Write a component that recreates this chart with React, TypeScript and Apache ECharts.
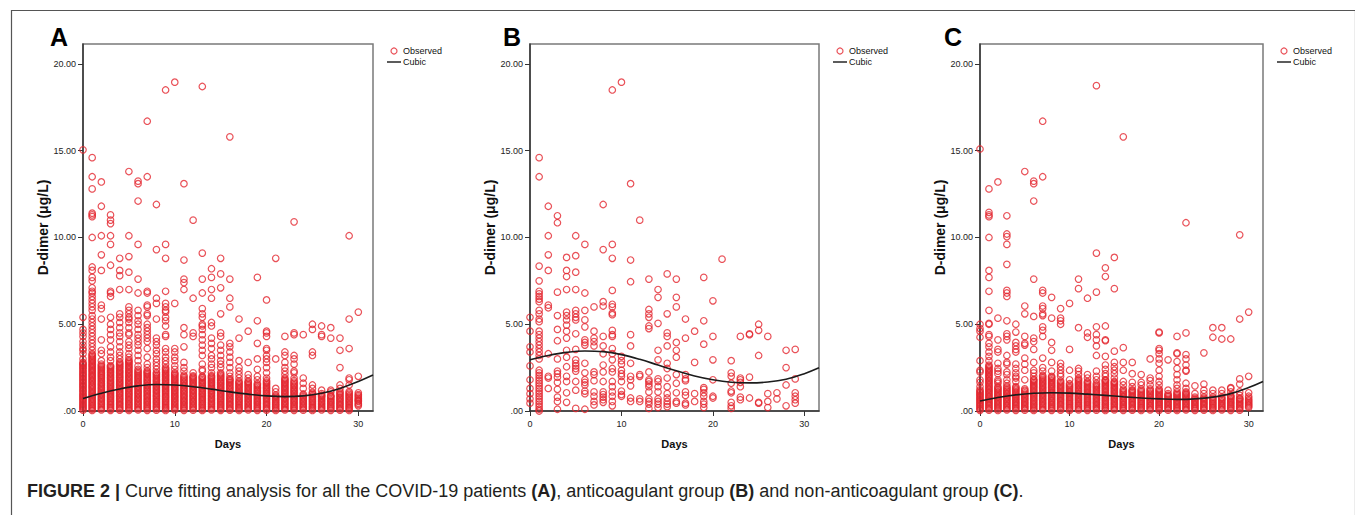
import React, { useEffect, useRef } from "react";
import * as echarts from "echarts";

// ---------- data (index of inner array = day) ----------
const obsA: number[][] = [
  [0.05,0.2,0.34,0.5,0.66,0.8,0.95,1.12,1.27,1.43,1.58,1.74,1.9,2.06,2.2,2.37,2.52,2.68,2.8,3.0,3.3,3.5,3.6,3.8,4.0,4.3,4.5,4.7,5.4,15.05],
  [0.03,0.17,0.31,0.46,0.6,0.76,0.9,1.05,1.2,1.36,1.5,1.66,1.8,1.96,2.1,2.26,2.4,2.56,2.7,2.86,3.0,3.16,3.3,3.5,3.7,3.9,4.1,4.3,4.5,4.7,4.9,5.1,5.3,5.5,5.8,6.0,6.2,6.4,6.6,6.8,6.9,7.1,7.5,7.7,8.1,8.3,10.0,11.2,11.3,11.4,12.8,13.5,14.6],
  [0.06,0.21,0.37,0.52,0.68,0.83,0.99,1.14,1.3,1.45,1.6,1.76,1.92,2.07,2.22,2.38,2.54,2.7,2.9,3.3,3.5,4.1,5.3,5.9,6.1,8.1,9.0,10.1,11.8,13.2],
  [0.04,0.19,0.35,0.5,0.65,0.81,0.96,1.12,1.27,1.42,1.58,1.73,1.89,2.04,2.2,2.35,2.5,2.62,2.9,3.1,3.4,3.7,4.1,4.4,4.7,5.0,5.4,6.6,6.8,6.9,8.4,9.6,10.1,10.8,11.0,11.3],
  [0.05,0.2,0.36,0.51,0.67,0.82,0.98,1.13,1.29,1.44,1.6,1.75,1.91,2.06,2.22,2.37,2.53,2.68,2.82,3.0,3.2,3.4,3.7,4.0,4.3,4.5,4.8,5.1,5.4,5.6,7.0,7.8,8.1,8.8],
  [0.03,0.18,0.34,0.49,0.65,0.8,0.96,1.11,1.27,1.42,1.58,1.73,1.89,2.04,2.2,2.35,2.51,2.66,2.82,2.95,3.1,3.3,3.6,3.8,4.0,4.4,4.5,4.8,5.1,5.3,5.4,5.6,5.8,6.0,7.0,8.0,8.9,10.1,13.8],
  [0.06,0.21,0.37,0.52,0.68,0.83,0.99,1.14,1.3,1.45,1.61,1.76,1.92,2.07,2.23,2.4,2.6,2.9,3.2,3.5,3.8,4.0,4.2,4.4,4.7,5.0,5.2,5.5,5.8,6.8,7.6,9.6,12.1,13.1,13.25],
  [0.04,0.2,0.35,0.51,0.66,0.82,0.97,1.13,1.28,1.44,1.59,1.75,1.9,2.06,2.2,2.32,2.5,2.7,3.1,3.6,4.0,4.2,4.4,4.6,4.8,5.0,5.5,5.6,6.0,6.1,6.8,6.9,13.5,16.7],
  [0.05,0.21,0.36,0.52,0.67,0.83,0.98,1.14,1.29,1.45,1.6,1.76,1.91,2.07,2.22,2.4,2.6,2.8,3.0,3.3,3.5,3.8,4.0,4.2,5.3,6.2,6.5,9.3,11.9],
  [0.03,0.19,0.34,0.5,0.65,0.81,0.96,1.12,1.27,1.43,1.58,1.74,1.89,2.05,2.2,2.36,2.5,2.7,2.9,3.1,3.4,3.6,4.3,4.4,4.9,5.2,5.4,5.7,5.8,6.0,6.2,6.9,8.8,9.6,18.5],
  [0.06,0.22,0.37,0.53,0.68,0.84,0.99,1.15,1.3,1.46,1.61,1.77,1.92,2.08,2.2,2.4,2.6,2.9,3.1,3.4,3.6,6.2,18.95],
  [0.04,0.2,0.35,0.51,0.66,0.82,0.97,1.13,1.28,1.44,1.59,1.75,1.9,2.06,2.3,2.5,2.8,3.7,4.4,4.8,7.0,7.4,7.6,8.7,13.1],
  [0.05,0.21,0.36,0.52,0.67,0.83,0.98,1.14,1.29,1.45,1.6,1.76,1.91,2.02,2.2,4.3,4.5,6.5,11.0],
  [0.03,0.18,0.34,0.49,0.65,0.8,0.96,1.11,1.27,1.42,1.58,1.73,1.89,2.0,2.3,2.4,2.7,3.2,3.5,3.8,4.1,4.4,4.7,4.9,5.0,5.4,5.6,5.9,6.8,7.6,9.1,18.7],
  [0.06,0.21,0.37,0.52,0.68,0.83,0.99,1.14,1.3,1.45,1.61,1.76,1.92,2.04,2.2,2.5,2.7,3.0,3.2,3.6,3.9,4.2,4.9,5.1,6.5,7.0,7.7,8.2],
  [0.04,0.19,0.35,0.5,0.66,0.81,0.97,1.12,1.28,1.43,1.59,1.74,1.9,2.05,2.2,2.5,2.7,2.9,3.2,3.5,3.8,4.3,4.5,5.6,7.1,7.9,8.8],
  [0.05,0.2,0.36,0.51,0.67,0.82,0.98,1.13,1.29,1.44,1.6,1.75,1.85,2.0,2.2,2.5,2.8,3.1,3.4,3.7,3.9,6.0,6.5,7.6,15.8],
  [0.03,0.19,0.34,0.5,0.65,0.81,0.96,1.12,1.27,1.43,1.58,1.72,1.9,2.1,2.3,2.5,2.9,4.2,5.3],
  [0.06,0.22,0.37,0.53,0.68,0.84,0.99,1.15,1.3,1.46,1.61,1.72,1.9,2.1,2.8,4.6],
  [0.04,0.2,0.35,0.51,0.66,0.82,0.97,1.13,1.28,1.44,1.58,1.8,2.0,2.4,3.0,3.9,5.2,7.7],
  [0.05,0.2,0.36,0.51,0.67,0.82,0.98,1.13,1.29,1.44,1.6,1.75,1.9,2.2,2.5,2.8,3.0,3.2,3.5,3.6,4.3,4.5,4.6,6.4],
  [0.03,0.18,0.34,0.49,0.65,0.8,0.92,1.1,1.3,3.0,8.8],
  [0.06,0.21,0.37,0.52,0.68,0.83,0.99,1.14,1.3,1.45,1.61,1.76,1.9,2.1,2.3,2.5,2.8,3.2,3.4,4.3],
  [0.04,0.2,0.35,0.51,0.66,0.82,0.97,1.13,1.28,1.44,1.59,1.75,1.9,2.2,2.3,2.7,3.0,3.2,4.4,4.5,10.9],
  [0.05,0.21,0.36,0.52,0.67,0.83,0.98,1.3,1.6,1.9,4.4],
  [0.03,0.19,0.34,0.5,0.65,0.81,0.96,1.08,1.3,1.5,3.2,3.4,4.7,5.0],
  [0.06,0.22,0.37,0.53,0.68,0.84,0.92,1.0,1.2,4.3,4.4,4.9],
  [0.04,0.2,0.35,0.51,0.66,0.82,0.9,1.1,1.2,4.2,4.8],
  [0.05,0.2,0.36,0.51,0.67,0.82,0.98,1.13,1.3,1.5,2.5,3.5,4.2],
  [0.03,0.19,0.34,0.5,0.65,0.81,0.96,1.12,1.5,1.8,1.9,3.6,5.3,10.1],
  [0.3,0.45,0.55,0.65,0.8,0.95,1.05,2.0,5.7],
];

// second reading of the crowded low band of panel A (points hidden between the first set)
const obsA2: number[][] = [
  [0.12,0.27,0.42,0.58,0.73,0.88,1.03,1.19,1.35,1.5,1.66,1.82,1.98,2.13,2.29,2.45,2.6,2.74],
  [0.1,0.24,0.38,0.53,0.68,0.83,0.97,1.12,1.28,1.43,1.58,1.73,1.88,2.03,2.18,2.33,2.48,2.63,2.78,2.93,3.08,3.23],
  [0.13,0.29,0.44,0.6,0.75,0.91,1.06,1.22,1.37,1.53,1.68,1.84,2.0,2.15,2.3,2.46,2.62],
  [0.11,0.27,0.42,0.57,0.73,0.88,1.04,1.19,1.35,1.5,1.65,1.81,1.96,2.12,2.27,2.43,2.56],
  [0.12,0.28,0.43,0.59,0.74,0.9,1.05,1.21,1.36,1.52,1.67,1.83,1.98,2.14,2.29,2.45,2.6,2.75],
  [0.1,0.26,0.41,0.57,0.72,0.88,1.03,1.19,1.34,1.5,1.65,1.81,1.96,2.12,2.27,2.43,2.58,2.74,2.88],
  [0.13,0.29,0.44,0.6,0.75,0.91,1.06,1.22,1.37,1.53,1.68,1.84,1.99,2.15,2.31],
  [0.12,0.27,0.43,0.58,0.74,0.89,1.05,1.2,1.36,1.51,1.67,1.82,1.98,2.13,2.26],
  [0.13,0.28,0.44,0.59,0.75,0.9,1.06,1.21,1.37,1.52,1.68,1.83,1.99,2.14],
  [0.11,0.26,0.42,0.57,0.73,0.88,1.04,1.19,1.35,1.5,1.66,1.81,1.97,2.12,2.28,2.43],
  [0.14,0.29,0.45,0.6,0.76,0.91,1.07,1.22,1.38,1.53,1.69,1.84,2.0,2.14],
  [0.12,0.27,0.43,0.58,0.74,0.89,1.05,1.2,1.36,1.51,1.67,1.82,1.98],
  [0.13,0.28,0.44,0.59,0.75,0.9,1.06,1.21,1.37,1.52,1.68,1.83,1.96],
  [0.1,0.26,0.41,0.57,0.72,0.88,1.03,1.19,1.34,1.5,1.65,1.81,1.95],
  [0.13,0.29,0.44,0.6,0.75,0.91,1.06,1.22,1.37,1.53,1.68,1.84,1.98],
  [0.11,0.27,0.42,0.58,0.73,0.89,1.04,1.2,1.35,1.51,1.66,1.82,1.97,2.12],
  [0.12,0.28,0.43,0.59,0.74,0.9,1.05,1.21,1.36,1.52,1.67,1.8],
  [0.11,0.26,0.42,0.57,0.73,0.88,1.04,1.19,1.35,1.5,1.65],
  [0.14,0.29,0.45,0.6,0.76,0.91,1.07,1.22,1.38,1.53,1.67],
  [0.12,0.27,0.43,0.58,0.74,0.89,1.05,1.2,1.36,1.51],
  [0.12,0.28,0.43,0.59,0.74,0.9,1.05,1.21,1.36,1.52,1.67],
  [0.1,0.26,0.41,0.57,0.72,0.86],
  [0.13,0.29,0.44,0.6,0.75,0.91,1.06,1.22,1.37,1.53,1.68,1.83],
  [0.12,0.27,0.43,0.58,0.74,0.89,1.05,1.2,1.36,1.51,1.67],
  [0.13,0.28,0.44,0.59,0.75,0.9],
  [0.11,0.26,0.42,0.57,0.73,0.88,1.02],
  [0.14,0.29,0.45,0.6,0.76,0.88],
  [0.12,0.27,0.43,0.58,0.74,0.86],
  [0.12,0.28,0.43,0.59,0.74,0.9,1.05],
  [0.11,0.26,0.42,0.57,0.73,0.88,1.04],
  [0.38,0.6,0.72,0.88],
];

const obsB: number[][] = [
  [0.45,0.7,1.0,1.3,1.8,2.6,3.4,3.7,4.6,5.4],
  [0.0,0.1,0.25,0.4,0.55,0.7,0.85,1.0,1.15,1.3,1.45,1.6,1.75,1.9,2.05,2.2,2.35,3.0,3.2,3.4,3.6,3.8,4.0,4.2,4.4,4.6,5.15,5.3,5.6,5.8,6.3,6.45,6.6,6.75,6.9,7.5,8.35,13.5,14.6],
  [1.3,1.9,2.0,3.3,5.95,6.1,8.1,9.0,10.1,11.8],
  [0.1,0.55,0.8,1.25,1.65,1.95,2.15,2.3,3.0,4.05,4.7,5.5,6.85,10.85,11.25],
  [0.5,1.05,1.7,2.0,2.55,3.1,3.5,4.2,4.6,4.95,5.25,5.5,5.7,7.0,7.75,8.1,8.85],
  [0.15,1.2,1.7,2.3,2.45,2.6,2.75,2.95,3.55,4.45,5.25,5.4,5.6,5.8,7.0,8.0,8.95,10.1],
  [0.1,1.0,1.15,1.5,1.65,1.8,2.2,2.75,3.8,3.95,4.1,4.85,5.25,5.8,6.8,9.6],
  [0.35,0.55,0.85,1.1,1.75,2.1,2.25,3.75,4.0,4.2,4.6,6.0],
  [0.5,0.65,0.8,0.95,1.1,1.7,2.25,2.65,3.3,3.75,4.3,6.05,6.3,9.3,11.9],
  [0.3,0.55,0.85,1.1,1.4,1.7,2.25,2.45,2.95,3.3,3.6,4.3,4.4,4.65,5.55,5.65,6.0,6.15,6.95,8.8,9.6,18.5],
  [0.85,0.95,1.15,1.7,2.0,2.15,2.35,2.7,2.9,3.15,18.95],
  [0.55,0.75,1.45,1.8,2.0,2.75,3.75,4.4,7.45,8.7,13.1],
  [0.55,0.7,2.0,2.1,11.0],
  [0.15,0.4,0.55,0.7,1.1,1.4,1.55,1.7,1.8,2.25,4.75,4.9,5.4,5.6,5.85,7.6],
  [0.2,0.4,0.55,0.7,1.1,1.4,1.7,1.85,2.95,3.5,5.05,6.55,7.0],
  [0.25,0.4,0.55,0.75,1.0,1.4,1.9,2.45,2.75,3.75,4.3,4.5,5.6,7.9],
  [0.45,0.55,1.05,1.6,2.1,3.1,3.5,3.95,6.0,6.55,7.6],
  [0.35,0.45,0.9,1.1,1.75,1.85,2.1,4.2,5.3],
  [0.55,1.0,2.8,4.6],
  [0.2,0.4,0.55,0.85,1.05,1.25,1.35,3.85,5.2,7.7],
  [0.75,0.85,1.8,2.95,4.3,6.35],
  [8.75],
  [0.15,0.3,0.5,1.05,1.15,1.6,2.0,2.2,2.9],
  [0.65,0.8,1.4,1.65,1.8,1.9,4.3],
  [0.75,1.95,4.4,4.45],
  [0.45,0.5,3.2,4.65,5.0],
  [0.2,0.55,1.0,4.3],
  [0.7,1.05],
  [0.3,1.5,2.5,3.5],
  [0.45,0.65,0.85,1.05,1.85,3.55],
];

const obsC: number[][] = [
  [0.04,0.18,0.33,0.48,0.63,0.78,0.93,1.08,1.22,1.4,1.65,1.8,2.25,2.35,2.9,4.25,4.6,4.75,5.0,15.1],
  [0.05,0.2,0.35,0.5,0.66,0.81,0.96,1.12,1.27,1.42,1.58,1.73,1.88,2.04,2.19,2.34,2.5,2.65,2.9,3.15,3.4,3.7,3.9,4.3,4.4,5.0,5.05,5.8,6.9,7.7,8.1,10.0,11.2,11.3,11.45,12.8],
  [0.03,0.19,0.34,0.5,0.65,0.8,0.96,1.11,1.26,1.4,1.6,1.7,1.8,2.15,2.3,2.45,2.75,3.4,3.55,4.1,5.35,13.2],
  [0.06,0.21,0.36,0.52,0.67,0.82,0.98,1.13,1.28,1.44,1.6,1.8,2.1,2.25,2.7,2.8,3.2,4.1,4.3,4.45,5.2,6.6,6.8,6.95,8.45,9.6,10.05,10.2,11.25],
  [0.04,0.2,0.35,0.5,0.66,0.81,0.96,1.12,1.27,1.4,1.7,1.9,2.0,2.2,2.45,2.7,3.4,3.55,3.75,3.95,4.55,5.0],
  [0.05,0.21,0.36,0.51,0.67,0.82,0.97,1.13,1.28,1.8,2.35,2.7,3.05,3.8,3.9,4.3,5.6,6.05,13.8],
  [0.03,0.18,0.34,0.49,0.64,0.8,0.95,1.1,1.26,1.41,1.56,1.72,1.82,2.0,2.2,2.35,2.8,3.55,4.0,4.2,5.45,7.6,12.1,13.1,13.25],
  [0.06,0.21,0.37,0.52,0.67,0.83,0.98,1.13,1.29,1.44,1.59,1.75,1.9,2.05,2.3,2.5,3.05,4.3,4.65,4.85,5.5,5.6,5.9,6.05,6.8,6.95,13.5,16.7],
  [0.04,0.19,0.35,0.5,0.65,0.81,0.96,1.11,1.27,1.42,1.57,1.73,1.88,2.0,2.3,2.8,3.5,3.95,5.35,6.55],
  [0.05,0.2,0.36,0.51,0.66,0.82,0.97,1.12,1.28,1.43,1.58,1.74,2.0,2.15,2.35,2.55,2.75,5.0,5.2,5.35,5.9],
  [0.03,0.19,0.34,0.49,0.65,0.8,0.95,1.11,1.26,1.41,1.57,1.8,2.35,3.55,6.2],
  [0.06,0.21,0.36,0.52,0.67,0.82,0.98,1.13,1.28,1.44,1.59,1.74,1.88,2.1,2.3,2.45,4.8,7.05,7.6],
  [0.04,0.2,0.35,0.5,0.66,0.81,0.96,1.12,1.27,1.42,1.58,1.7,1.9,2.1,4.25,4.5,6.5],
  [0.05,0.21,0.36,0.51,0.67,0.82,0.97,1.13,1.28,1.43,1.59,1.8,2.0,2.3,3.2,3.75,4.1,4.4,4.85,6.85,9.1,18.75],
  [0.03,0.18,0.34,0.49,0.64,0.8,0.95,1.1,1.26,1.41,1.56,1.72,1.8,2.0,2.15,2.4,2.65,3.15,4.05,4.1,4.9,7.75,8.25],
  [0.06,0.21,0.37,0.52,0.67,0.83,0.98,1.13,1.29,1.44,1.59,1.7,1.9,2.15,2.35,2.55,2.8,3.45,7.05,8.85],
  [0.04,0.19,0.35,0.5,0.65,0.81,0.96,1.11,1.27,1.5,1.7,2.35,2.8,3.65,15.8],
  [0.05,0.2,0.36,0.51,0.66,0.82,0.97,1.12,1.22,1.4,1.65,2.15,2.8],
  [0.03,0.19,0.34,0.49,0.65,0.8,0.95,1.11,1.26,1.5,1.65,2.1],
  [0.06,0.21,0.36,0.52,0.67,0.82,0.98,1.13,1.28,1.5,1.75,1.9,3.0],
  [0.04,0.2,0.35,0.5,0.66,0.81,0.96,1.12,1.27,1.5,1.7,2.0,2.35,2.75,3.0,3.3,3.5,3.6,4.5,4.55],
  [0.05,0.21,0.36,0.51,0.67,0.82,0.92,1.0,1.2,2.95],
  [0.03,0.18,0.34,0.49,0.64,0.8,0.95,1.1,1.3,1.5,1.8,2.1,2.45,2.85,3.3,3.35,4.3],
  [0.06,0.21,0.37,0.52,0.67,0.83,0.98,1.1,1.3,1.6,2.3,2.35,2.65,3.0,3.25,4.5,10.85],
  [0.04,0.19,0.35,0.5,0.65,0.8,1.0,1.45],
  [0.05,0.2,0.36,0.51,0.66,0.8,1.0,1.2,1.55,3.35],
  [0.03,0.19,0.34,0.49,0.65,0.8,1.0,1.2,4.25,4.8],
  [0.06,0.21,0.36,0.52,0.67,0.8,1.0,1.2,4.15,4.8],
  [0.04,0.2,0.35,0.5,0.66,0.81,0.9,1.1,1.3,1.35,4.15],
  [0.05,0.21,0.36,0.51,0.67,0.75,0.9,1.1,1.55,1.85,5.3,10.15],
  [0.2,0.35,0.5,0.65,0.85,1.05,2.0,5.7],
];

// second reading of the crowded low band of panel C
const obsC2: number[][] = [
  [0.11,0.26,0.41,0.56,0.71,0.86,1.0,1.15],
  [0.12,0.28,0.43,0.58,0.73,0.88,1.04,1.2,1.35,1.5,1.65,1.8,1.96,2.11,2.27,2.42,2.58],
  [0.11,0.27,0.42,0.58,0.73,0.88,1.03,1.19,1.33],
  [0.13,0.29,0.44,0.6,0.75,0.9,1.05,1.2,1.36],
  [0.12,0.28,0.43,0.58,0.74,0.89,1.04,1.2,1.34],
  [0.13,0.28,0.44,0.59,0.74,0.9,1.05,1.2],
  [0.1,0.26,0.41,0.57,0.72,0.88,1.03,1.18,1.34,1.49,1.64,1.78],
  [0.13,0.29,0.44,0.6,0.75,0.9,1.06,1.21,1.36,1.52,1.67,1.82,1.98],
  [0.12,0.27,0.42,0.58,0.73,0.88,1.04,1.19,1.35,1.5,1.65,1.8,1.95],
  [0.12,0.28,0.43,0.59,0.74,0.89,1.05,1.2,1.35,1.5,1.66],
  [0.11,0.26,0.42,0.57,0.72,0.88,1.03,1.18,1.34,1.49],
  [0.13,0.29,0.44,0.6,0.75,0.9,1.05,1.2,1.36,1.51,1.66,1.81],
  [0.12,0.27,0.43,0.58,0.73,0.89,1.04,1.19,1.35,1.5,1.64],
  [0.13,0.28,0.44,0.59,0.74,0.9,1.05,1.2,1.36,1.51],
  [0.11,0.26,0.41,0.57,0.72,0.88,1.03,1.18,1.33,1.49,1.64,1.76],
  [0.13,0.29,0.44,0.6,0.75,0.9,1.06,1.21,1.36,1.52,1.65],
  [0.12,0.27,0.42,0.58,0.73,0.88,1.04,1.19],
  [0.12,0.28,0.43,0.58,0.74,0.89,1.05,1.17],
  [0.11,0.26,0.42,0.57,0.72,0.88,1.03,1.18],
  [0.13,0.29,0.44,0.6,0.75,0.9,1.05,1.2],
  [0.12,0.27,0.43,0.58,0.73,0.89,1.04,1.2],
  [0.13,0.28,0.44,0.59,0.74,0.87],
  [0.11,0.26,0.41,0.57,0.72,0.88,1.02],
  [0.13,0.29,0.44,0.6,0.75,0.9,1.04],
  [0.12,0.27,0.42,0.58,0.72],
  [0.12,0.28,0.43,0.58,0.73],
  [0.11,0.26,0.42,0.57,0.72],
  [0.13,0.29,0.44,0.6,0.74],
  [0.12,0.27,0.43,0.58,0.73,0.85],
  [0.13,0.28,0.44,0.59,0.7],
  [0.28,0.42,0.58,0.75],
];

// fitted cubic curves, read at these days
const cubicDays = [0, 2, 4, 6, 8, 10, 12, 14, 16, 18, 20, 22, 24, 26, 28, 30, 31.6];
const cubicA = [0.72, 1.02, 1.27, 1.45, 1.53, 1.5, 1.4, 1.26, 1.1, 0.97, 0.87, 0.83, 0.87, 1.02, 1.3, 1.7, 2.07];
const cubicB = [2.95, 3.2, 3.38, 3.46, 3.42, 3.25, 2.98, 2.65, 2.32, 2.02, 1.8, 1.66, 1.62, 1.67, 1.83, 2.15, 2.49];
const cubicC = [0.58, 0.78, 0.93, 1.02, 1.05, 1.03, 0.97, 0.9, 0.82, 0.75, 0.7, 0.67, 0.7, 0.8, 1.0, 1.35, 1.7];

const xTicks = [0, 10, 20, 30];
const yTicks = [0, 5, 10, 15, 20];
const panelLetters = ["A", "B", "C"];
const legendNames = ["Observed", "Cubic"];
const xTitle = "Days";
const yTitle = "D-dimer (μg/L)";

const FONT = "'Liberation Sans', Arial, sans-serif";
const RED = "#e3262e";

const layout = [
  { left: 83, width: 290, legendLeft: 382, letterX: 50 },
  { left: 530, width: 289, legendLeft: 828, letterX: 503 },
  { left: 980, width: 283, legendLeft: 1272, letterX: 944 },
];

function toPoints(...sets: number[][][]) {
  const pts: number[][] = [];
  sets.forEach((obs) => obs.forEach((vals, day) => vals.forEach((v) => pts.push([day, v]))));
  return pts;
}

function buildOption() {
  const obsAll = [toPoints(obsA, obsA2), toPoints(obsB), toPoints(obsC, obsC2)];
  const cubAll = [cubicA, cubicB, cubicC];
  const grid: any[] = [];
  const xAxis: any[] = [];
  const yAxis: any[] = [];
  const series: any[] = [];
  const legend: any[] = [];
  const graphic: any[] = [];

  layout.forEach((p, i) => {
    grid.push({
      left: p.left, top: 44, width: p.width, height: 367,
      show: true, borderColor: "#7a7a7a", borderWidth: 1.5, backgroundColor: "transparent",
    });
    xAxis.push({
      gridIndex: i, type: "value", min: 0, max: 31.6,
      name: xTitle, nameLocation: "middle", nameGap: 27,
      nameTextStyle: { fontWeight: "bold", fontSize: 11, color: "#111", fontFamily: FONT },
      axisLine: { show: true, onZero: false, lineStyle: { color: "#333", width: 1.5 } },
      axisTick: { show: true, length: 5, customValues: xTicks, lineStyle: { color: "#333", width: 1 } },
      axisLabel: { customValues: xTicks, fontSize: 9, margin: 8, color: "#222", fontFamily: FONT },
      splitLine: { show: false },
    });
    yAxis.push({
      gridIndex: i, type: "value", min: 0, max: 21.15,
      name: yTitle, nameLocation: "middle", nameRotate: 90, nameGap: 20,
      nameTextStyle: { fontWeight: "bold", fontSize: 14, color: "#111", fontFamily: FONT },
      axisLine: { show: true, onZero: false, lineStyle: { color: "#333", width: 1.5 } },
      axisTick: { show: true, length: 5, customValues: yTicks, lineStyle: { color: "#333", width: 1 } },
      axisLabel: {
        customValues: yTicks, fontSize: 9, margin: 7, color: "#222", fontFamily: FONT,
        formatter: (v: number) => (v === 0 ? ".00" : v.toFixed(2)),
      },
      splitLine: { show: false },
    });
    series.push({
      type: "scatter", name: legendNames[0], xAxisIndex: i, yAxisIndex: i,
      data: obsAll[i], symbol: "circle", symbolSize: 6.5, silent: true,
      itemStyle: { color: "rgba(255,255,255,0)", borderColor: RED, borderWidth: 1.2 },
    });
    series.push({
      type: "line", name: legendNames[1], xAxisIndex: i, yAxisIndex: i,
      data: cubicDays.map((d, k) => [d, cubAll[i][k]]), smooth: 0.4,
      symbol: "none", silent: true, z: 5,
      itemStyle: { color: "#1c1c1c" },
      lineStyle: { color: "#1c1c1c", width: 1.6 },
    });
    legend.push({
      orient: "vertical", left: p.legendLeft, top: 41, itemWidth: 14, itemHeight: 6, itemGap: 1,
      selectedMode: false,
      textStyle: { fontSize: 9, color: "#111", fontFamily: FONT, lineHeight: 10, padding: [0, 0, 0, -3] },
      data: [
        { name: legendNames[0], icon: "circle", itemStyle: { color: "rgba(255,255,255,0)", borderColor: RED, borderWidth: 1.2 } },
        { name: legendNames[1], icon: "path://M0,0L14,0L14,1.6L0,1.6Z", itemStyle: { color: "#333", borderWidth: 0 } },
      ],
    });
    graphic.push({
      type: "text", left: p.letterX, top: 24,
      style: { text: panelLetters[i], font: `bold 25px ${FONT}`, fill: "#000" },
    });
  });

  graphic.push({
    type: "rect", left: 9, top: 8, silent: true,
    shape: { width: 1344, height: 530 },
    style: { fill: "none", stroke: "#555", lineWidth: 1.2 },
  });
  graphic.push({
    type: "text", left: 27, top: 482,
    style: {
      text: "{b|FIGURE 2 |} Curve fitting analysis for all the COVID-19 patients {b|(A)}, anticoagulant group {b|(B)} and non-anticoagulant group {b|(C)}.",
      font: `18px ${FONT}`, fill: "#231f20",
      rich: { b: { fontWeight: "bold", fontSize: 18, fontFamily: FONT, fill: "#231f20" } },
    },
  });

  return { animation: false, backgroundColor: "#fff", grid, xAxis, yAxis, series, legend, graphic };
}

export default function App() {
  const ref = useRef<HTMLDivElement>(null);
  useEffect(() => {
    const chart = echarts.init(ref.current!, null, { renderer: "svg" });
    chart.setOption(buildOption() as any);
    return () => chart.dispose();
  }, []);
  return (
    <div
      ref={ref}
      style={{ position: "absolute", left: 0, top: 0, width: 1355, height: 515, background: "#fff" }}
    />
  );
}
